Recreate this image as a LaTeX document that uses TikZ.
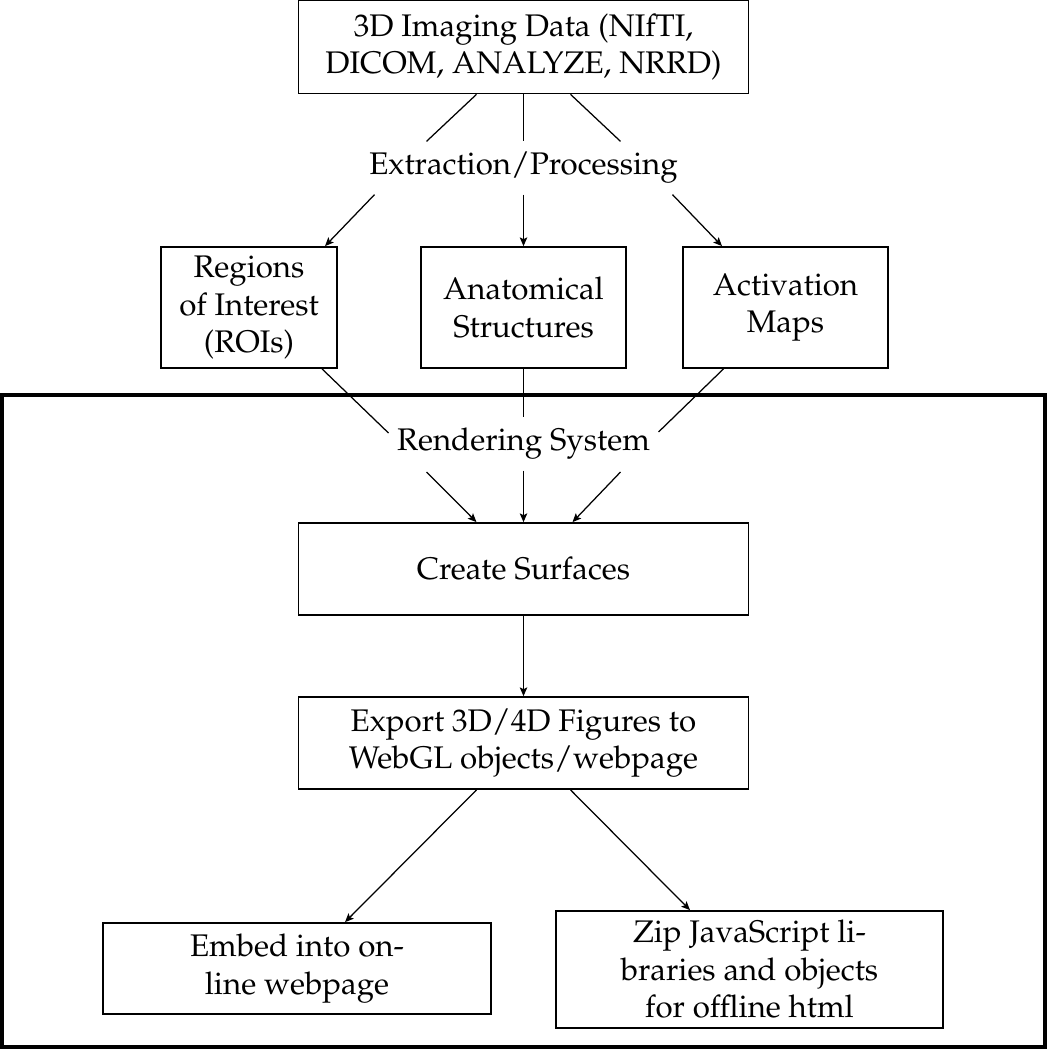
\documentclass[tikz,border=0pt]{standalone}
\usepackage[T1]{fontenc}
\usepackage{mathpazo}
\usetikzlibrary{calc,arrows.meta}
\newcommand{\pxlen}{0.32pt}
\tikzset{
  box/.style={draw, line width=0.55pt, inner sep=0pt, align=center, font=\fontsize{10}{12}\selectfont},
  lbl/.style={inner sep=0pt, align=center, font=\fontsize{10}{12}\selectfont},
  conn/.style={line width=0.4pt},
  arr/.style={line width=0.4pt, -{Stealth[length=2.8pt,width=2.4pt,inset=0.6pt]}},
}
\begin{document}
\begin{tikzpicture}[x=0.32pt,y=-0.32pt]
\useasboundingbox (0,0) rectangle (1047,1050);
\node[box, minimum width=450*\pxlen, minimum height=93*\pxlen] (top) at (523.5,47) {3D Imaging Data (NIfTI,\\DICOM, ANALYZE, NRRD)};
\node[lbl, minimum width=300*\pxlen, minimum height=52*\pxlen] (ext) at (523.5,168) {Extraction/Processing};
\node[box, minimum width=176*\pxlen, minimum height=121*\pxlen] (roi) at (249,307.5) {Regions\\of Interest\\(ROIs)};
\node[box, minimum width=205*\pxlen, minimum height=121*\pxlen] (anat) at (523.5,307.5) {Anatomical\\Structures};
\node[box, minimum width=205*\pxlen, minimum height=121*\pxlen] (act) at (785.5,307.5) {Activation\\Maps};
\node[lbl, minimum width=270*\pxlen, minimum height=52*\pxlen] (rend) at (523.5,444) {Rendering System};
\node[box, minimum width=450*\pxlen, minimum height=92*\pxlen] (cs) at (523.5,569) {Create Surfaces};
\node[box, minimum width=450*\pxlen, minimum height=92*\pxlen] (exp) at (523.5,743) {Export 3D/4D Figures to\\WebGL objects/webpage};
\node[box, minimum width=388*\pxlen, minimum height=91*\pxlen] (emb) at (297,968.5) {Embed into on-\\line webpage};
\node[box, minimum width=387*\pxlen, minimum height=117*\pxlen] (zip) at (749.5,969.5) {Zip JavaScript li-\\braries and objects\\for offline html};
\draw[line width=4*\pxlen] (2,395) rectangle (1045,1047);
% top -> extraction
\draw[conn] ($(top.south)+(-47,0)$) -- ($(ext.north)+(-97,0)$);
\draw[conn] (top.south) -- (ext.north);
\draw[conn] ($(top.south)+(47,0)$) -- ($(ext.north)+(97,0)$);
% extraction -> three
\draw[arr] ($(ext.south)+(-149,0)$) -- ($(roi.north)+(76,0)$);
\draw[arr] (ext.south) -- (anat.north);
\draw[arr] ($(ext.south)+(149,0)$) -- ($(act.north)+(-63.5,0)$);
% three -> rendering
\draw[conn] ($(roi.south)+(73,0)$) -- ($(rend.center)+(-135,-11)$);
\draw[conn] (anat.south) -- (rend.north);
\draw[conn] ($(act.south)+(-62,0)$) -- ($(rend.center)+(135,-12)$);
% rendering -> create surfaces
\draw[arr] ($(rend.center)+(-97,28)$) -- ($(cs.north)+(-47,0)$);
\draw[arr] (rend.south) -- (cs.north);
\draw[arr] ($(rend.center)+(97,28)$) -- ($(cs.north)+(49,0)$);
\draw[arr] (cs.south) -- (exp.north);
\draw[arr] ($(exp.south)+(-47,0)$) -- ($(emb.north)+(48,0)$);
\draw[arr] ($(exp.south)+(47,0)$) -- ($(zip.north)+(-59.5,0)$);
\end{tikzpicture}
\end{document}
